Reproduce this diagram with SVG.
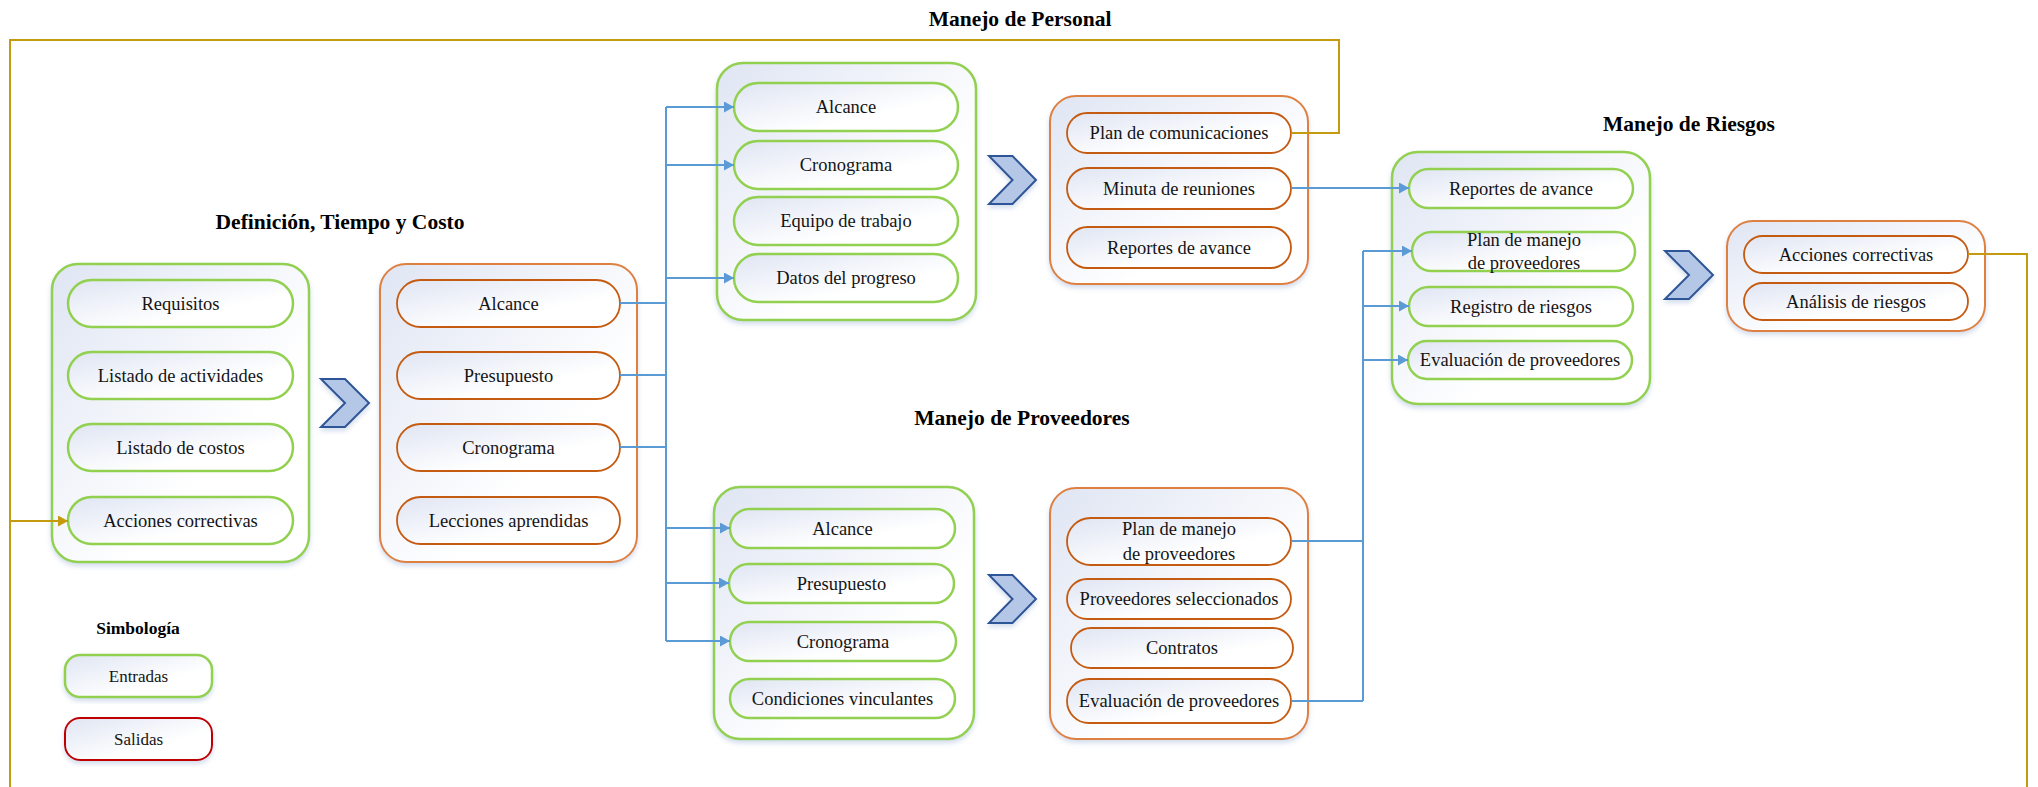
<svg xmlns="http://www.w3.org/2000/svg" width="2038" height="787" viewBox="0 0 2038 787">
<defs>
<linearGradient id="gr" x1="0" y1="0" x2="1" y2="1">
<stop offset="0" stop-color="#dfe5f3"/>
<stop offset="0.65" stop-color="#ffffff"/>
<stop offset="1" stop-color="#ffffff"/>
</linearGradient>
<filter id="sh" x="-10%" y="-10%" width="120%" height="125%">
<feDropShadow dx="0" dy="3" stdDeviation="2.5" flood-color="#9db4d6" flood-opacity="0.45"/>
</filter>
<marker id="ab" markerUnits="userSpaceOnUse" markerWidth="11" markerHeight="11" refX="10" refY="5.5" orient="auto">
<path d="M0,0 L10,5.5 L0,11 z" fill="#5b9bd5"/>
</marker>
<marker id="ag" markerUnits="userSpaceOnUse" markerWidth="11" markerHeight="11" refX="10" refY="5.5" orient="auto">
<path d="M0,0 L10,5.5 L0,11 z" fill="#c49a0f"/>
</marker>
<style>
.og{fill:url(#gr);stroke:#92d050;stroke-width:2.5;filter:url(#sh)}
.pg{fill:url(#gr);stroke:#92d050;stroke-width:2.5}
.oo{fill:url(#gr);stroke:#dd8040;stroke-width:2;filter:url(#sh)}
.po{fill:url(#gr);stroke:#c55a11;stroke-width:1.8}
.pr{fill:url(#gr);stroke:#c00000;stroke-width:2;filter:url(#sh)}
.pl{fill:url(#gr);stroke:#92d050;stroke-width:2.5;filter:url(#sh)}
.t{font-family:"Liberation Serif","Times New Roman",serif;font-size:18.5px;text-anchor:middle;fill:#141414}
.s{font-size:17px}
.h{font-family:"Liberation Serif","Times New Roman",serif;font-weight:bold;font-size:21.5px;text-anchor:middle;fill:#000}
.hs{font-size:17.5px}
.ch{fill:#b4c7e7;stroke:#2f5597;stroke-width:2;filter:url(#sh)}
.bl{stroke:#5b9bd5;stroke-width:2;fill:none}
.gd{stroke:#c49a0f;stroke-width:2;fill:none}
</style>
</defs>
<rect width="2038" height="787" fill="#ffffff"/>

<text class="h" x="1020" y="26">Manejo de Personal</text>
<text class="h" x="340" y="229">Definición, Tiempo y Costo</text>
<text class="h" x="1022" y="425">Manejo de Proveedores</text>
<text class="h" x="1689" y="131">Manejo de Riesgos</text>

<g id="dtc-entradas">
<rect class="og" x="52" y="264" width="257" height="298" rx="26"/>
<rect class="pg" x="68" y="280" width="225" height="47" rx="23.5"/>
<text class="t" x="180.5" y="310">Requisitos</text>
<rect class="pg" x="68" y="352" width="225" height="47" rx="23.5"/>
<text class="t" x="180.5" y="382">Listado de actividades</text>
<rect class="pg" x="68" y="424" width="225" height="47" rx="23.5"/>
<text class="t" x="180.5" y="454">Listado de costos</text>
<rect class="pg" x="68" y="497" width="225" height="47" rx="23.5"/>
<text class="t" x="180.5" y="527">Acciones correctivas</text>
</g>
<g id="dtc-chevron"><polygon class="ch" points="321,379 345,379 369,403 345,427 321,427 345,403"/></g>
<g id="dtc-salidas">
<rect class="oo" x="380" y="264" width="257" height="298" rx="26"/>
<rect class="po" x="397" y="280" width="223" height="47" rx="23.5"/>
<text class="t" x="508.5" y="310">Alcance</text>
<rect class="po" x="397" y="352" width="223" height="47" rx="23.5"/>
<text class="t" x="508.5" y="382">Presupuesto</text>
<rect class="po" x="397" y="424" width="223" height="47" rx="23.5"/>
<text class="t" x="508.5" y="454">Cronograma</text>
<rect class="po" x="397" y="497" width="223" height="47" rx="23.5"/>
<text class="t" x="508.5" y="527">Lecciones aprendidas</text>
</g>

<g id="personal-entradas">
<rect class="og" x="717" y="63" width="259" height="257" rx="26"/>
<rect class="pg" x="734" y="83" width="224" height="48" rx="24"/>
<text class="t" x="846" y="113">Alcance</text>
<rect class="pg" x="734" y="141" width="224" height="48" rx="24"/>
<text class="t" x="846" y="171">Cronograma</text>
<rect class="pg" x="734" y="197" width="224" height="48" rx="24"/>
<text class="t" x="846" y="227">Equipo de trabajo</text>
<rect class="pg" x="734" y="254" width="224" height="48" rx="24"/>
<text class="t" x="846" y="284">Datos del progreso</text>
</g>
<g id="personal-chevron"><polygon class="ch" points="989,156 1012.5,156 1036,180 1012.5,204 989,204 1012.5,180"/></g>
<g id="personal-salidas">
<rect class="oo" x="1050" y="96" width="258" height="188" rx="26"/>
<rect class="po" x="1067" y="113" width="224" height="40" rx="20"/>
<text class="t" x="1179" y="139">Plan de comunicaciones</text>
<rect class="po" x="1067" y="168" width="224" height="41" rx="20.5"/>
<text class="t" x="1179" y="194.5">Minuta de reuniones</text>
<rect class="po" x="1067" y="227" width="224" height="41" rx="20.5"/>
<text class="t" x="1179" y="253.5">Reportes de avance</text>
</g>

<g id="proveedores-entradas">
<rect class="og" x="714" y="487" width="260" height="252" rx="26"/>
<rect class="pg" x="730" y="509" width="225" height="39" rx="19.5"/>
<text class="t" x="842.5" y="534.5">Alcance</text>
<rect class="pg" x="729" y="564" width="225" height="39" rx="19.5"/>
<text class="t" x="841.5" y="589.5">Presupuesto</text>
<rect class="pg" x="730" y="622" width="226" height="39" rx="19.5"/>
<text class="t" x="843" y="647.5">Cronograma</text>
<rect class="pg" x="730" y="679" width="225" height="39" rx="19.5"/>
<text class="t" x="842.5" y="704.5">Condiciones vinculantes</text>
</g>
<g id="proveedores-chevron"><polygon class="ch" points="989,575 1012.5,575 1036,599 1012.5,623 989,623 1012.5,599"/></g>
<g id="proveedores-salidas">
<rect class="oo" x="1050" y="488" width="258" height="251" rx="26"/>
<rect class="po" x="1067" y="518" width="224" height="47" rx="23.5"/>
<text class="t" x="1179" y="535">Plan de manejo</text>
<text class="t" x="1179" y="560">de proveedores</text>
<rect class="po" x="1067" y="579" width="224" height="40" rx="20"/>
<text class="t" x="1179" y="605">Proveedores seleccionados</text>
<rect class="po" x="1071" y="628" width="222" height="40" rx="20"/>
<text class="t" x="1182" y="654">Contratos</text>
<rect class="po" x="1067" y="679" width="224" height="44" rx="22"/>
<text class="t" x="1179" y="707">Evaluación de proveedores</text>
</g>

<g id="riesgos-entradas">
<rect class="og" x="1392" y="152" width="258" height="252" rx="26"/>
<rect class="pg" x="1409" y="169" width="224" height="39" rx="19.5"/>
<text class="t" x="1521" y="194.5">Reportes de avance</text>
<rect class="pg" x="1412" y="232" width="223" height="39" rx="19.5"/>
<text class="t" x="1524" y="246">Plan de manejo</text>
<text class="t" x="1524" y="269">de proveedores</text>
<rect class="pg" x="1409" y="287" width="224" height="39" rx="19.5"/>
<text class="t" x="1521" y="312.5">Registro de riesgos</text>
<rect class="pg" x="1408" y="341" width="224" height="38" rx="19"/>
<text class="t" x="1520" y="366">Evaluación de proveedores</text>
</g>
<g id="riesgos-chevron"><polygon class="ch" points="1665,251 1689,251 1713,275 1689,299 1665,299 1689,275"/></g>
<g id="riesgos-salidas">
<rect class="oo" x="1727" y="221" width="258" height="110" rx="26"/>
<rect class="po" x="1744" y="236" width="224" height="37" rx="18.5"/>
<text class="t" x="1856" y="260.5">Acciones correctivas</text>
<rect class="po" x="1744" y="283" width="224" height="37" rx="18.5"/>
<text class="t" x="1856" y="307.5">Análisis de riesgos</text>
</g>

<g id="legend">
<text class="h hs" x="138" y="634">Simbología</text>
<rect class="pl" x="65" y="655" width="147" height="42" rx="15"/>
<text class="t s" x="138.5" y="682">Entradas</text>
<rect class="pr" x="65" y="718" width="147" height="42" rx="15"/>
<text class="t s" x="138.5" y="745">Salidas</text>
</g>

<g id="connectors">
<path class="bl" d="M620,303 H666 M620,375 H666 M620,447 H666 M666,107 V641"/>
<path class="bl" marker-end="url(#ab)" d="M666,107 H734"/>
<path class="bl" marker-end="url(#ab)" d="M666,165 H734"/>
<path class="bl" marker-end="url(#ab)" d="M666,278 H734"/>
<path class="bl" marker-end="url(#ab)" d="M666,528 H730"/>
<path class="bl" marker-end="url(#ab)" d="M666,583 H729"/>
<path class="bl" marker-end="url(#ab)" d="M666,641 H730"/>
<path class="bl" marker-end="url(#ab)" d="M1291,188 H1409"/>
<path class="bl" d="M1291,541 H1363 M1291,701 H1363 M1363,251 V701"/>
<path class="bl" marker-end="url(#ab)" d="M1363,251 H1412"/>
<path class="bl" marker-end="url(#ab)" d="M1363,306 H1409"/>
<path class="bl" marker-end="url(#ab)" d="M1363,360 H1408"/>
<path class="gd" d="M1291,133 H1339 V40 H10 V787"/>
<path class="gd" marker-end="url(#ag)" d="M10,521 H68"/>
<path class="gd" d="M1968,254 H2027 V787"/>
</g>
</svg>
